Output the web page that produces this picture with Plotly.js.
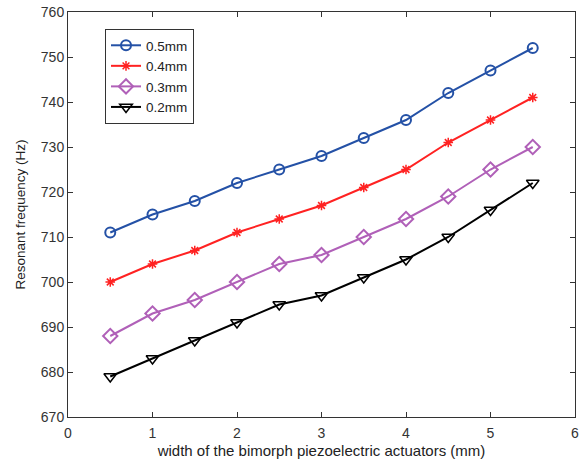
<!DOCTYPE html>
<html><head><meta charset="utf-8">
<script src="https://cdn.plot.ly/plotly-3.0.1.min.js"></script>
<style>html,body{margin:0;padding:0;background:#fff}</style>
</head><body>
<div id="chart" style="width:580px;height:466px"></div>
<script>
const widths = [0.5, 1, 1.5, 2, 2.5, 3, 3.5, 4, 4.5, 5, 5.5];
const f05 = [711, 715, 718, 722, 725, 728, 732, 736, 742, 747, 752];
const f04 = [700, 704, 707, 711, 714, 717, 721, 725, 731, 736, 741];
const f03 = [688, 693, 696, 700, 704, 706, 710, 714, 719, 725, 730];
const f02 = [679, 683, 687, 691, 695, 697, 701, 705, 710, 716, 722];
const names = ['0.5mm', '0.4mm', '0.3mm', '0.2mm'];

const traces = [
  {x: widths, y: f05, name: names[0], mode: 'lines+markers',
   line: {color: '#2451a6', width: 2},
   marker: {symbol: 'circle-open', size: 10, color: '#2451a6', line: {width: 2}}},
  {x: widths, y: f04, name: names[1], mode: 'lines+markers',
   line: {color: '#ff2222', width: 2},
   marker: {symbol: 'asterisk-open', size: 8, color: '#ff2222', line: {width: 1.5, color: '#ff2222'}}},
  {x: widths, y: f03, name: names[2], mode: 'lines+markers',
   line: {color: '#b060b8', width: 2},
   marker: {symbol: 'diamond-open', size: 11, color: '#b060b8', line: {width: 2}}},
  {x: widths, y: f02, name: names[3], mode: 'lines+markers',
   line: {color: '#000000', width: 2},
   marker: {symbol: 'triangle-down-open', size: 11, color: '#000000', line: {width: 1.5}}}
];

const axisCommon = {
  showgrid: false, zeroline: false, showline: true, linecolor: '#333', linewidth: 1,
  mirror: 'ticks', ticks: 'inside', ticklen: 5, tickcolor: '#333',
  tickfont: {family: 'Liberation Sans, Arial, sans-serif', size: 14, color: '#333'}
};

const layout = {
  width: 580, height: 466,
  margin: {l: 68, r: 5, t: 12, b: 49},
  paper_bgcolor: '#fff', plot_bgcolor: '#fff',
  showlegend: true,
  xaxis: Object.assign({}, axisCommon, {
    range: [0, 6], dtick: 1, tick0: 0, ticklabelstandoff: 3,
    title: {text: 'width of the bimorph piezoelectric actuators (mm)', standoff: 5,
            font: {family: 'Liberation Sans, Arial, sans-serif', size: 15, color: '#222'}}
  }),
  yaxis: Object.assign({}, axisCommon, {
    range: [670, 760], dtick: 10, tick0: 670,
    title: {text: 'Resonant frequency (Hz)', standoff: 12,
            font: {family: 'Liberation Sans, Arial, sans-serif', size: 13.5, color: '#222'}}
  }),
  legend: {
    x: 0.073, y: 0.958, xanchor: 'left', yanchor: 'top',
    bgcolor: '#fff', bordercolor: '#333', borderwidth: 1,
    font: {family: 'Liberation Sans, Arial, sans-serif', size: 13.5, color: '#222'},
    tracegroupgap: 0, itemwidth: 30
  }
};

Plotly.newPlot('chart', traces, layout, {displayModeBar: false, staticPlot: true});
</script>
</body></html>
